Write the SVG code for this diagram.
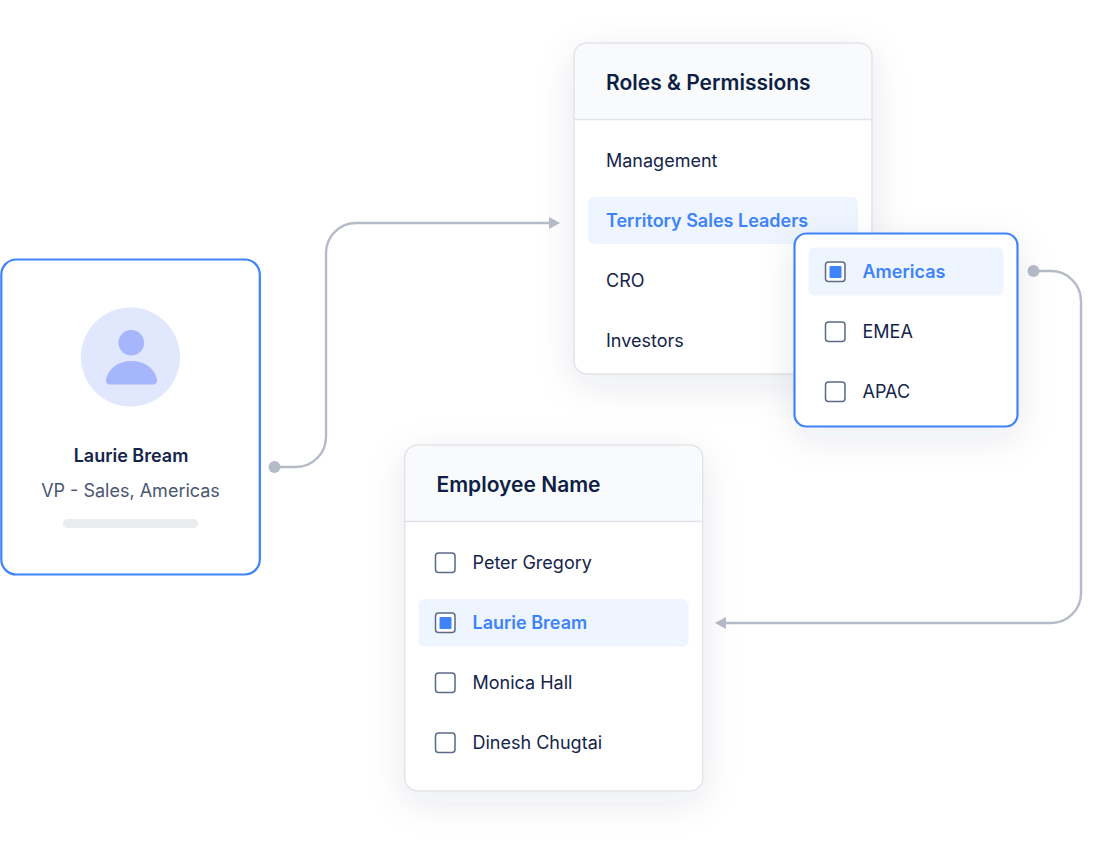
<svg xmlns="http://www.w3.org/2000/svg" width="1112" height="847" viewBox="0 0 1112 847">
<style>
text{font-family:Inter,"Liberation Sans",sans-serif;font-size:18px;fill:#14244a}
.h{font-size:21px;font-weight:600;fill:#0e1f45}
.a{font-weight:600;fill:#3f83f8}
.card{fill:#fff;stroke:#e2e3e9;stroke-width:1.5}
.blue{fill:#fff;stroke:#3f83f8;stroke-width:2.2}
.head{fill:#f9fafc}
.hl{fill:#eef5ff}
.cb{fill:#fff;stroke:#5b6a85;stroke-width:1.5}
.dot{fill:#3f83f8}
.conn{fill:none;stroke:#b6bbc8;stroke-width:2.4}
.tip{fill:#b6bbc8}
</style>
<defs>
<filter id="sh" x="-30%" y="-30%" width="160%" height="160%"><feDropShadow dx="0" dy="10" stdDeviation="18" flood-color="#1e2a50" flood-opacity="0.09"/></filter>
</defs>
<rect width="1112" height="847" fill="#fff"/>
<g id="connectors">
<path class="conn" d="M275 467H296a30 30 0 0 0 30-30V253a30 30 0 0 1 30-30H552"/>
<circle class="tip" cx="274.500" cy="467" r="6"/>
<path class="tip" d="M549 217L560 223L549 229Z"/>
<path class="conn" d="M1034 271H1051a30 30 0 0 1 30 30V593a30 30 0 0 1-30 30H724"/>
<circle class="tip" cx="1033.500" cy="271" r="6"/>
<path class="tip" d="M726 617L715 623L726 629Z"/>
</g>
<g id="profile">
<rect class="blue" x="1.300" y="259.500" width="258.500" height="315" rx="15"/>
<circle cx="130.500" cy="357" r="49.500" fill="#e1e7fd"/>
<circle cx="131.300" cy="342.700" r="12.800" fill="#a6b6fc"/>
<path d="M109.500 384.500a4 4 0 0 1-3.500-5C108 369 118 361 131.500 361S155 369 157 379.500a4 4 0 0 1-3.500 5Z" fill="#a6b6fc"/>
<text x="131" y="461.500" text-anchor="middle" style="font-weight:600">Laurie Bream</text>
<text x="130.500" y="496.500" text-anchor="middle" style="fill:#4a5672">VP - Sales, Americas</text>
<rect x="63" y="519" width="135" height="9" rx="4.500" fill="#ebecf0"/>
</g>
<g id="roles">
<rect class="card" x="574" y="43" width="298" height="331" rx="13" filter="url(#sh)"/>
<path class="head" d="M575 119V56a12 12 0 0 1 12-12H859a12 12 0 0 1 12 12V119Z"/>
<path d="M574 119.500H872" stroke="#e2e3e9" stroke-width="1.500"/>
<text class="h" x="606" y="90">Roles &amp; Permissions</text>
<text x="606" y="166.500">Management</text>
<rect class="hl" x="588" y="197" width="270" height="47" rx="6"/>
<text class="a" x="606" y="226.500">Territory Sales Leaders</text>
<text x="606" y="286.500">CRO</text>
<text x="606" y="346.500">Investors</text>
</g>
<g id="regions">
<rect class="blue" x="794.500" y="233.500" width="223" height="193" rx="12" filter="url(#sh)"/>
<rect class="hl" x="808.500" y="247.500" width="195" height="48" rx="6"/>
<rect class="cb" x="825.500" y="262" width="19.500" height="19.500" rx="3"/>
<rect class="dot" x="829.500" y="266" width="12" height="12" rx="1"/>
<text class="a" x="862.500" y="277.500">Americas</text>
<rect class="cb" x="825.500" y="322" width="19.500" height="19.500" rx="3"/>
<text x="862.500" y="337.500">EMEA</text>
<rect class="cb" x="825.500" y="382" width="19.500" height="19.500" rx="3"/>
<text x="862.500" y="397.500">APAC</text>
</g>
<g id="employees">
<rect class="card" x="404.800" y="445" width="298" height="346" rx="13" filter="url(#sh)"/>
<path class="head" d="M405.800 521V458a12 12 0 0 1 12-12H689.800a12 12 0 0 1 12 12V521Z"/>
<path d="M404.800 521.500H702.800" stroke="#e2e3e9" stroke-width="1.500"/>
<text class="h" x="436.500" y="492">Employee Name</text>
<rect class="cb" x="435.500" y="553" width="19.500" height="19.500" rx="3"/>
<text x="472.500" y="568.500">Peter Gregory</text>
<rect class="hl" x="418.500" y="599" width="270" height="47.500" rx="6"/>
<rect class="cb" x="435.500" y="613" width="19.500" height="19.500" rx="3"/>
<rect class="dot" x="439.500" y="617" width="12" height="12" rx="1"/>
<text class="a" x="472.500" y="628.500">Laurie Bream</text>
<rect class="cb" x="435.500" y="673" width="19.500" height="19.500" rx="3"/>
<text x="472.500" y="688.500">Monica Hall</text>
<rect class="cb" x="435.500" y="733" width="19.500" height="19.500" rx="3"/>
<text x="472.500" y="748.500">Dinesh Chugtai</text>
</g>
</svg>
